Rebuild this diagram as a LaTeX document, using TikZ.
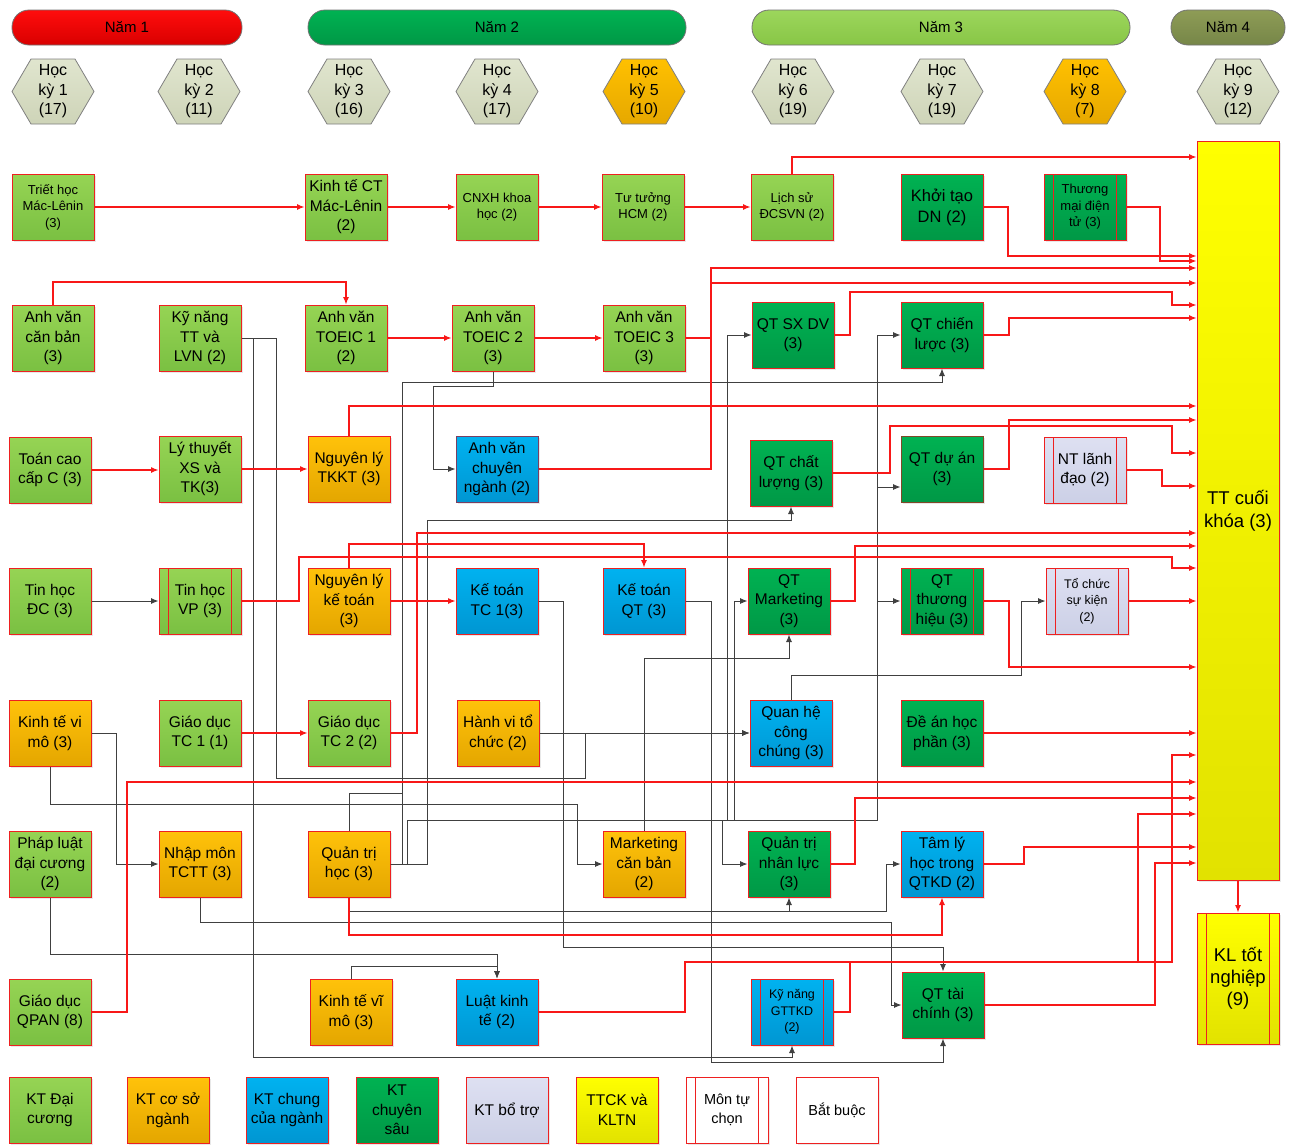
\documentclass[tikz,border=0pt]{standalone}
\usepackage{fontspec}
\setmainfont{Liberation Sans}
\usetikzlibrary{arrows.meta,shadows}

\definecolor{lnred}{RGB}{248,24,24}
\definecolor{lngray}{RGB}{64,64,64}
\definecolor{bdred}{RGB}{238,32,32}
\definecolor{bdpur}{RGB}{122,62,98}
\definecolor{bdbrn}{RGB}{128,72,40}
\definecolor{dcT}{RGB}{150,212,84}
\definecolor{dcB}{RGB}{122,192,66}
\definecolor{orT}{RGB}{255,194,10}
\definecolor{orB}{RGB}{228,166,0}
\definecolor{blT}{RGB}{0,178,240}
\definecolor{blB}{RGB}{0,150,210}
\definecolor{dgT}{RGB}{0,178,82}
\definecolor{dgB}{RGB}{0,152,70}
\definecolor{lvT}{RGB}{222,224,242}
\definecolor{lvB}{RGB}{204,208,230}
\definecolor{ylT}{RGB}{255,255,0}
\definecolor{ylB}{RGB}{226,226,0}
\definecolor{hxT}{RGB}{224,229,206}
\definecolor{hxB}{RGB}{206,212,184}
\definecolor{hxO}{RGB}{255,192,0}
\definecolor{hxOB}{RGB}{230,168,0}

\tikzset{
  box/.style={rectangle, draw=bdred, line width=1pt, minimum width=82pt,
    minimum height=66pt, inner sep=1pt, align=center, text=black,
    font=\fontsize{15.5}{19.5}\selectfont,
    drop shadow={opacity=0.18, shadow xshift=2pt, shadow yshift=-2pt}},
  sm/.style={font=\fontsize{13}{16.5}\selectfont},
  xs/.style={font=\fontsize{12.5}{16.5}\selectfont},
  dc/.style={top color=dcT, bottom color=dcB},
  orr/.style={top color=orT, bottom color=orB},
  blu/.style={top color=blT, bottom color=blB},
  dgr/.style={top color=dgT, bottom color=dgB},
  lav/.style={top color=lvT, bottom color=lvB},
  yel/.style={top color=ylT, bottom color=ylB},
  wht/.style={fill=white},
  opt/.style={path picture={
    \draw[bdred, line width=1pt] ([xshift=9.5pt]path picture bounding box.north west) -- ([xshift=9.5pt]path picture bounding box.south west);
    \draw[bdred, line width=1pt] ([xshift=-9.5pt]path picture bounding box.north east) -- ([xshift=-9.5pt]path picture bounding box.south east);}},
  pill/.style={rectangle, rounded corners=17pt, draw=black!55, line width=0.8pt,
    minimum height=35pt, inner sep=0pt, font=\fontsize{15}{17}\selectfont},
  hexshape/.style={draw=black!50, line width=0.8pt},
  hextext/.style={align=center, inner sep=0pt, font=\fontsize{16}{19.5}\selectfont},
  rl/.style={draw=lnred, line width=1.1pt, -{Latex[length=7.5pt,width=6pt]}},
  gl/.style={draw=lngray, line width=0.9pt, -{Latex[length=7.5pt,width=6pt]}},
  gln/.style={draw=lngray, line width=0.9pt},
}

\newcommand{\hexa}[5]{%
  \path[hexshape, #4] (#2,#3) ++(-41,0) -- ++(19,-32.5) -- ++(44,0) -- ++(19,32.5) -- ++(-19,32.5) -- ++(-44,0) -- cycle;
  \node[hextext] (#1) at (#2,#3) {#5};}

\begin{document}
\begin{tikzpicture}[x=1pt,y=-1pt]
\fill[white] (0,0) rectangle (1293,1144);
\useasboundingbox (0,0) rectangle (1293,1144);

% ---------- year headers ----------
\node[pill, minimum width=230pt, top color=red!95, bottom color=red!85!black] (nam1) at (127,27.5) {Năm 1};
\node[pill, minimum width=378pt, top color=dgT, bottom color=dgB] (nam2) at (497,27.5) {Năm 2};
\node[pill, minimum width=378pt, top color={rgb,255:red,156;green,214;blue,92}, bottom color={rgb,255:red,136;green,198;blue,70}] (nam3) at (941,27.5) {Năm 3};
\node[pill, minimum width=114pt, top color={rgb,255:red,142;green,156;blue,86}, bottom color={rgb,255:red,118;green,134;blue,72}] (nam4) at (1228,27.5) {Năm 4};

% ---------- semesters ----------
\hexa{hk1}{53}{91.5}{top color=hxT, bottom color=hxB}{Học\\kỳ 1\\(17)}
\hexa{hk2}{199}{91.5}{top color=hxT, bottom color=hxB}{Học\\kỳ 2\\(11)}
\hexa{hk3}{349}{91.5}{top color=hxT, bottom color=hxB}{Học\\kỳ 3\\(16)}
\hexa{hk4}{497}{91.5}{top color=hxT, bottom color=hxB}{Học\\kỳ 4\\(17)}
\hexa{hk5}{644}{91.5}{top color=hxO, bottom color=hxOB}{Học\\kỳ 5\\(10)}
\hexa{hk6}{793}{91.5}{top color=hxT, bottom color=hxB}{Học\\kỳ 6\\(19)}
\hexa{hk7}{942}{91.5}{top color=hxT, bottom color=hxB}{Học\\kỳ 7\\(19)}
\hexa{hk8}{1085}{91.5}{top color=hxO, bottom color=hxOB}{Học\\kỳ 8\\(7)}
\hexa{hk9}{1238}{91.5}{top color=hxT, bottom color=hxB}{Học\\kỳ 9\\(12)}

% ---------- row 1 ----------
\node[box,dc,sm] (triet) at (53,207) {Triết học\\Mác-Lênin\\(3)};
\node[box,dc] (ktct) at (346,207) {Kinh tế CT\\Mác-Lênin\\(2)};
\node[box,dc,sm] (cnxh) at (497,207) {CNXH khoa\\học (2)};
\node[box,dc,sm] (tutuong) at (643,207) {Tư tưởng\\HCM (2)};
\node[box,dc,sm] (lichsu) at (792,207) {Lịch sử\\ĐCSVN (2)};
\node[box,dgr,font=\fontsize{16.5}{21}\selectfont] (khoitao) at (942,207) {Khởi tạo\\DN (2)};
\node[box,dgr,sm,opt] (tmdt) at (1085,207) {Thương\\mại điện\\tử (3)};

% ---------- row 2 ----------
\node[box,dc] (avcb) at (53,338) {Anh văn\\căn bản\\(3)};
\node[box,dc] (kntt) at (200,338) {Kỹ năng\\TT và\\LVN (2)};
\node[box,dc] (toeic1) at (346,338) {Anh văn\\TOEIC 1\\(2)};
\node[box,dc] (toeic2) at (493,338) {Anh văn\\TOEIC 2\\(3)};
\node[box,dc] (toeic3) at (644,338) {Anh văn\\TOEIC 3\\(3)};
\node[box,dgr] (qtsx) at (793,335) {QT SX DV\\(3)};
\node[box,dgr] (qtcl) at (942,335) {QT chiến\\lược (3)};

% ---------- row 3 ----------
\node[box,dc] (toancc) at (50,470) {Toán cao\\cấp C (3)};
\node[box,dc] (ltxs) at (200,469) {Lý thuyết\\XS và\\TK(3)};
\node[box,orr] (tkkt) at (349,469) {Nguyên lý\\TKKT (3)};
\node[box,blu,draw=bdpur] (avcn) at (497,469) {Anh văn\\chuyên\\ngành (2)};
\node[box,dgr] (qtcluong) at (791,473) {QT chất\\lượng (3)};
\node[box,dgr,draw=bdbrn] (qtda) at (942,469) {QT dự án\\(3)};
\node[box,lav,opt] (ntld) at (1085,470) {NT lãnh\\đạo (2)};

% ---------- row 4 ----------
\node[box,dc] (thdc) at (50,601) {Tin học\\ĐC (3)};
\node[box,dc,opt] (thvp) at (200,601) {Tin học\\VP (3)};
\node[box,orr] (nlkt) at (349,601) {Nguyên lý\\kế toán\\(3)};
\node[box,blu] (kttc1) at (497,601) {Kế toán\\TC 1(3)};
\node[box,blu] (ktqt) at (644,601) {Kế toán\\QT (3)};
\node[box,dgr] (qtmkt) at (789,601) {QT\\Marketing\\(3)};
\node[box,dgr,opt] (qtth) at (942,601) {QT\\thương\\hiệu (3)};
\node[box,lav,xs,opt] (tcsk) at (1087,601) {Tổ chức\\sự kiện\\(2)};

% ---------- row 5 ----------
\node[box,orr] (ktvimo) at (50,733) {Kinh tế vi\\mô (3)};
\node[box,dc] (gdtc1) at (200,733) {Giáo dục\\TC 1 (1)};
\node[box,dc] (gdtc2) at (349,733) {Giáo dục\\TC 2 (2)};
\node[box,orr] (hvtc) at (498,733) {Hành vi tổ\\chức (2)};
\node[box,blu] (qhcc) at (791,733) {Quan hệ\\công\\chúng (3)};
\node[box,dgr] (dean) at (942,733) {Đề án học\\phần (3)};

% ---------- row 6 ----------
\node[box,dc] (phapluat) at (50,864) {Pháp luật\\đại cương\\(2)};
\node[box,orr] (nmtctt) at (200,864) {Nhập môn\\TCTT (3)};
\node[box,orr] (qth) at (349,864) {Quản trị\\học (3)};
\node[box,orr] (mktcb) at (644,864) {Marketing\\căn bản\\(2)};
\node[box,dgr] (qtnl) at (789,864) {Quản trị\\nhân lực\\(3)};
\node[box,blu] (tamly) at (942,864) {Tâm lý\\học trong\\QTKD (2)};

% ---------- row 7 ----------
\node[box,dc] (gdqpan) at (50,1012) {Giáo dục\\QPAN (8)};
\node[box,orr] (ktvimo2) at (351,1012) {Kinh tế vĩ\\mô (3)};
\node[box,blu] (luatkt) at (497,1012) {Luật kinh\\tế (2)};
\node[box,blu,xs,opt] (kngttkd) at (792,1012) {Kỹ năng\\GTTKD\\(2)};
\node[box,dgr] (qttc) at (943,1005) {QT tài\\chính (3)};

% ---------- final ----------
\node[box,yel,minimum height=739pt,font=\fontsize{18.5}{23}\selectfont] (tt) at (1238,510.5) {TT cuối\\khóa (3)};
\node[box,yel,opt,minimum height=131pt,font=\fontsize{18.5}{22}\selectfont] (kl) at (1238,978.5) {KL tốt\\nghiệp\\(9)};

% ---------- legend ----------
\node[box,dc] (lg1) at (50,1110) {KT Đại\\cương};
\node[box,orr] (lg2) at (168,1110) {KT cơ sở\\ngành};
\node[box,blu] (lg3) at (287,1110) {KT chung\\của ngành};
\node[box,dgr] (lg4) at (397,1110) {KT\\chuyên\\sâu};
\node[box,lav] (lg5) at (507,1110) {KT bổ trợ};
\node[box,yel] (lg6) at (617,1110) {TTCK và\\KLTN};
\node[box,wht,opt,font=\fontsize{14.5}{19}\selectfont] (lg7) at (727,1110) {Môn tự\\chọn};
\node[box,wht,font=\fontsize{14.5}{19}\selectfont] (lg8) at (837,1110) {Bắt buộc};

% ================= gray connectors =================
\draw[gl] (thdc.east) -- (thvp.west);
\draw[gl] (ktvimo.east) -| (116,864) -- (nmtctt.west);
\draw[gl] (ktvimo.south) |- (577,804) |- (mktcb.west);
\draw[gl] (phapluat.south) |- (497,954) -- (luatkt.north);
\draw[gl] (ktvimo2.north) |- (497,966) -- (luatkt.north);
\draw[gl] (kntt.east) -| (253,1057) -| (kngttkd.south);
\draw[gl] (kntt.east) -| (276,778) -| (585,733) -- (qhcc.west);
\draw[gl] (hvtc.east) -- (qhcc.west);
\draw[gl] (toeic2.south) |- (433,386) |- (avcn.west);
\draw[gl] (qth.east) -| (402,382) -| (qtcl.south);
\draw[gln] (qth.north) |- (402,793);
\draw[gl] (qth.east) -| (427,520) -| (qtcluong.south);
\draw[gl] (qth.east) -| (407,820) -| (727,335) -- (qtsx.west);
\draw[gl] (qth.east) -| (407,820) -| (734,601) -- (qtmkt.west);
\draw[gl] (qth.east) -| (407,820) -| (722,864) -- (qtnl.west);
\draw[gl] (qth.east) -| (407,820) -| (877,335) -- (qtcl.west);
\draw[gl] (qth.east) -| (407,820) -| (877,487) -- (qtda.west |- 0,487);
\draw[gl] (qth.east) -| (407,820) -| (877,601) -- (qtth.west);
\draw[gl] (qth.south) |- (789,911) -- (qtnl.south);
\draw[gl] (qth.south) |- (886,911) |- (tamly.west);
\draw[gl] (nmtctt.south) |- (891,922) |- (qttc.west);
\draw[gl] (kttc1.east) -| (563,947) -| (qttc.north);
\draw[gl] (ktqt.east) -| (711,1062) -| (qttc.south);
\draw[gl] (mktcb.north) |- (789,658) -- (qtmkt.south);
\draw[gl] (qhcc.north) |- (1021,675) |- (tcsk.west);

% ================= red connectors =================
\draw[rl] (triet.east) -- (ktct.west);
\draw[rl] (ktct.east) -- (cnxh.west);
\draw[rl] (cnxh.east) -- (tutuong.west);
\draw[rl] (tutuong.east) -- (lichsu.west);
\draw[rl] (lichsu.north) |- (tt.west |- 0,157);
\draw[rl] (khoitao.east) -| (1008,256) -- (tt.west |- 0,256);
\draw[rl] (tmdt.east) -| (1160,261) -- (tt.west |- 0,261);
\draw[rl] (avcb.north) |- (346,282) -- (toeic1.north);
\draw[rl] (toeic1.east) -- (toeic2.west);
\draw[rl] (toeic2.east) -- (toeic3.west);
\draw[rl] (toeic3.east) -| (711,268) -- (tt.west |- 0,268);
\draw[rl] (avcn.east) -| (711,283) -- (tt.west |- 0,283);
\draw[rl] (qtsx.east) -| (850,292) -| (1172,305) -- (tt.west |- 0,305);
\draw[rl] (qtcl.east) -| (1009,318) -- (tt.west |- 0,318);
\draw[rl] (toancc.east) -- (ltxs.west |- toancc.east);
\draw[rl] (ltxs.east) -- (tkkt.west);
\draw[rl] (tkkt.north) |- (tt.west |- 0,406);
\draw[rl] (qtda.east) -| (1009,420) -- (tt.west |- 0,420);
\draw[rl] (qtcluong.east) -| (890,426) -| (1172,453) -- (tt.west |- 0,453);
\draw[rl] (ntld.east) -| (1162,486) -- (tt.west |- 0,486);
\draw[rl] (gdtc2.east) -| (417,533) -- (tt.west |- 0,533);
\draw[rl] (qtmkt.east) -| (855,546) -- (tt.west |- 0,546);
\draw[rl] (thvp.east) -| (299,557) -| (1172,568) -- (tt.west |- 0,568);
\draw[rl] (nlkt.north) |- (644,544) -- (ktqt.north);
\draw[rl] (nlkt.east) -- (kttc1.west);
\draw[rl] (tcsk.east) -- (tt.west |- tcsk.east);
\draw[rl] (qtth.east) -| (1009,667) -- (tt.west |- 0,667);
\draw[rl] (gdtc1.east) -- (gdtc2.west);
\draw[rl] (dean.east) -- (tt.west |- dean.east);
\draw[rl] (luatkt.east) -| (685,962) -| (1172,755) -- (tt.west |- 0,755);
\draw[rl] (gdqpan.east) -| (127,782) -- (tt.west |- 0,782);
\draw[rl] (qtnl.east) -| (855,798) -- (tt.west |- 0,798);
\draw[rl] (kngttkd.east) -| (850,962) -| (1138,814) -- (tt.west |- 0,814);
\draw[rl] (tamly.east) -| (1024,847) -- (tt.west |- 0,847);
\draw[rl] (qttc.east) -| (1155,863) -- (tt.west |- 0,863);
\draw[rl] (qth.south) |- (942,935) -- (tamly.south);
\draw[rl] (tt.south) -- (kl.north);
\end{tikzpicture}
\end{document}
